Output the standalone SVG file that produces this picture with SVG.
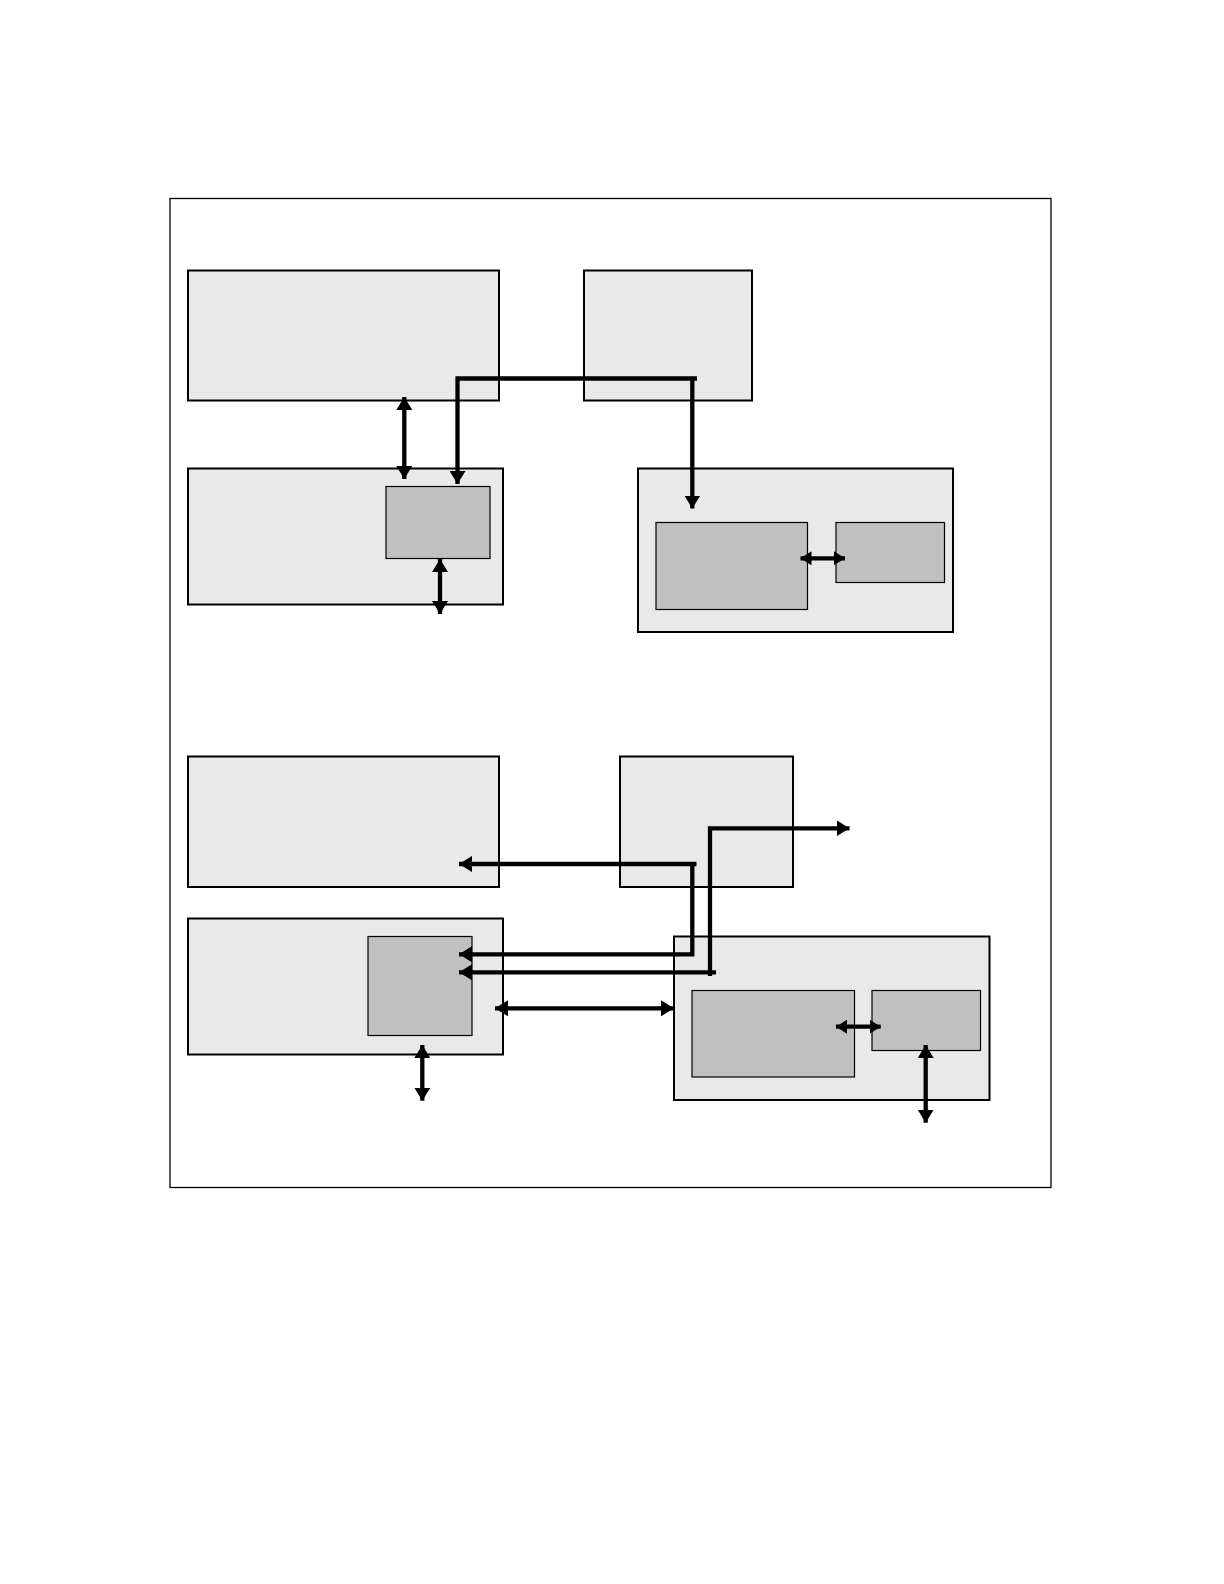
<svg xmlns="http://www.w3.org/2000/svg" width="1224" height="1584" viewBox="0 0 1224 1584">
<style>
.frame{fill:none;stroke:#000;stroke-width:1.3}
.outer{fill:#e9e9e9;stroke:#000;stroke-width:2}
.inner{fill:#c0c0c0;stroke:#000;stroke-width:1.2}
.conn{fill:none;stroke:#000;stroke-width:4.3;stroke-linejoin:miter}
.big{marker-start:url(#ah);marker-end:url(#ah)}
.one{marker-end:url(#ah)}
.small{marker-start:url(#as);marker-end:url(#as)}
</style>
<defs>
<marker id="ah" markerUnits="userSpaceOnUse" markerWidth="14" markerHeight="16" refX="13" refY="8" orient="auto-start-reverse"><path d="M0,0 L13,8 L0,16 z" fill="#000"/></marker>
<marker id="as" markerUnits="userSpaceOnUse" markerWidth="12" markerHeight="14" refX="11" refY="7" orient="auto-start-reverse"><path d="M0,0 L11,7 L0,14 z" fill="#000"/></marker>
</defs>
<rect width="1224" height="1584" fill="#fff"/>
<rect class="frame" x="170" y="198.5" width="881" height="989"/>
<g id="nodeA"><rect class="outer" x="188" y="270.5" width="311" height="130"/></g>
<g id="nodeB"><rect class="outer" x="584" y="270.5" width="168" height="130"/></g>
<g id="nodeC"><rect class="outer" x="188" y="468.5" width="315" height="136"/></g>
<g id="nodeD"><rect class="inner" x="386" y="486.5" width="104" height="72"/></g>
<g id="nodeE"><rect class="outer" x="638" y="468.5" width="315" height="163.5"/></g>
<g id="nodeF"><rect class="inner" x="656" y="522.5" width="151.5" height="87"/></g>
<g id="nodeG"><rect class="inner" x="836" y="522.5" width="108.5" height="60"/></g>
<g id="nodeH"><rect class="outer" x="188" y="756.5" width="311" height="130.5"/></g>
<g id="nodeI"><rect class="outer" x="620" y="756.5" width="173" height="130.5"/></g>
<g id="nodeJ"><rect class="outer" x="188" y="918.5" width="315" height="136"/></g>
<g id="nodeK"><rect class="inner" x="368" y="936.5" width="104" height="99"/></g>
<g id="nodeL"><rect class="outer" x="674" y="936.5" width="315.5" height="163.5"/></g>
<g id="nodeM"><rect class="inner" x="692" y="990.5" width="162.5" height="86.5"/></g>
<g id="nodeN"><rect class="inner" x="872" y="990.5" width="108.5" height="60"/></g>
<g id="connectors">
<path class="conn big" d="M404.3,397 L404.3,479"/>
<path class="conn one" d="M697,378.5 L457.5,378.5 L457.5,484"/>
<path class="conn one" d="M692.3,378.5 L692.3,508.5"/>
<path class="conn big" d="M440,559 L440,614"/>
<path class="conn small" d="M800.5,558.3 L845,558.3"/>
<path class="conn one" d="M696.5,864 L459,864"/>
<path class="conn one" d="M692.3,864 L692.3,954.3 L459,954.3"/>
<path class="conn one" d="M716,972.3 L459,972.3"/>
<path class="conn one" d="M710,976 L710,828.3 L849.5,828.3"/>
<path class="conn big" d="M495,1008.3 L674,1008.3"/>
<path class="conn big" d="M422.3,1045 L422.3,1100.7"/>
<path class="conn small" d="M836,1026.7 L880.7,1026.7"/>
<path class="conn big" d="M925.7,1045 L925.7,1122.7"/>
</g>
</svg>
